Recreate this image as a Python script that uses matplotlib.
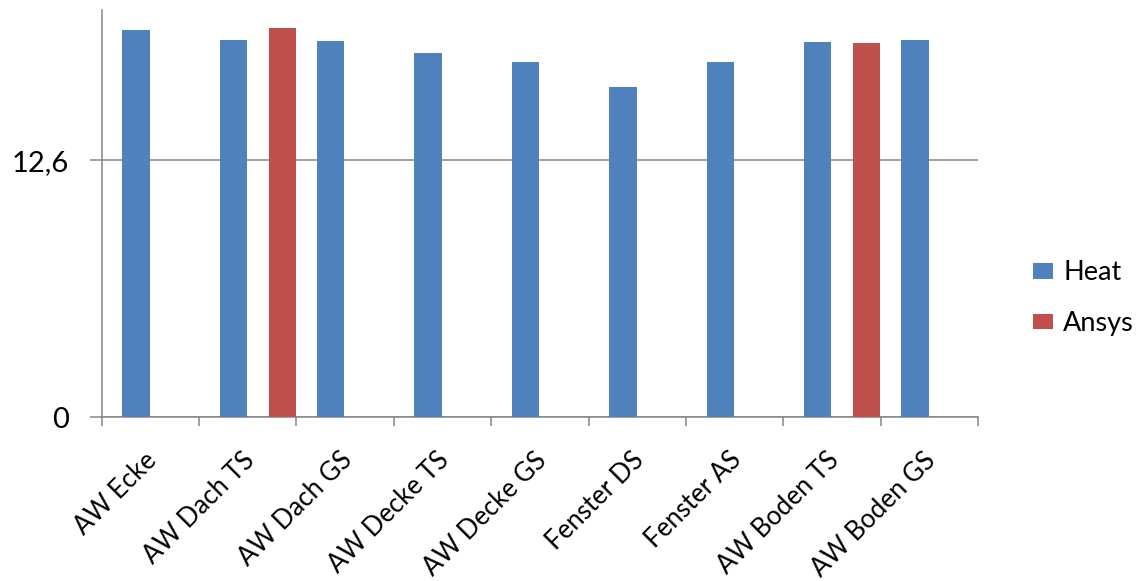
import matplotlib
matplotlib.use('Agg')
import matplotlib.pyplot as plt
import matplotlib.transforms as mtransforms
import numpy as np

categories = ['AW Ecke', 'AW Dach TS', 'AW Dach GS', 'AW Decke TS', 'AW Decke GS',
              'Fenster DS', 'Fenster AS', 'AW Boden TS', 'AW Boden GS']
heat = [18.97, 18.51, 18.43, 17.88, 17.42, 16.21, 17.42, 18.41, 18.51]
ansys = [None, 19.07, None, None, None, None, None, 18.34, None]
y_ticks = [0, 12.6]
y_tick_labels = ['0', '12,6']

BLUE = '#4F81BD'
RED = '#C0504D'
GREY = '#868686'

plt.rcParams['font.family'] = ['Lato', 'DejaVu Sans']

fig = plt.figure(figsize=(11.42, 5.81), dpi=100)
ax = fig.add_axes([0.0891, 0.2818, 0.7673, 0.7010])

x = np.arange(len(categories))
bar_w = 0.281
h_heat = ax.bar(x - 0.148, heat, width=bar_w, color=BLUE, label='Heat', zorder=3)
ansys_x = [i for i, v in enumerate(ansys) if v is not None]
ansys_y = [ansys[i] for i in ansys_x]
h_ansys = ax.bar(np.array(ansys_x) + 0.357, ansys_y, width=bar_w, color=RED,
                 label='Ansys', zorder=3)

ax.set_xlim(-0.5, len(categories) - 0.5)
ax.set_ylim(0, 19.97)

ax.set_yticks(y_ticks)
ax.set_yticklabels(y_tick_labels, fontsize=21)
ax.tick_params(axis='y', length=8.4, width=1.1, color=GREY, pad=15)
ax.yaxis.grid(True, color=GREY, lw=1.1)
ax.set_axisbelow(True)

# labels at category centres, tick marks at the boundaries
ax.set_xticks(x)
ax.set_xticklabels(categories, rotation=45, ha='right', va='baseline',
                   rotation_mode='anchor', fontsize=18.5)
ax.tick_params(axis='x', which='major', length=0, pad=32)
ax.set_xticks(np.arange(-0.5, len(categories)), minor=True)
ax.tick_params(axis='x', which='minor', length=6.5, width=1.1, color=GREY)

shift = mtransforms.ScaledTranslation(0.08, 0, fig.dpi_scale_trans)
for lbl in ax.get_xticklabels():
	lbl.set_transform(lbl.get_transform() + shift)

for s in ['top', 'right']:
	ax.spines[s].set_visible(False)
for s in ['left', 'bottom']:
	ax.spines[s].set_color(GREY)
	ax.spines[s].set_linewidth(1.1)

fig.legend(handles=[h_heat, h_ansys], loc='center left',
           bbox_to_anchor=(1032.7 / 1142, 1 - 298.3 / 581),
           bbox_transform=fig.transFigure, frameon=False, fontsize=19.5,
           handlelength=0.74, handleheight=0.52, handletextpad=0.38,
           labelspacing=0.95, borderpad=0, borderaxespad=0)

fig.savefig('out.png', dpi=100)
